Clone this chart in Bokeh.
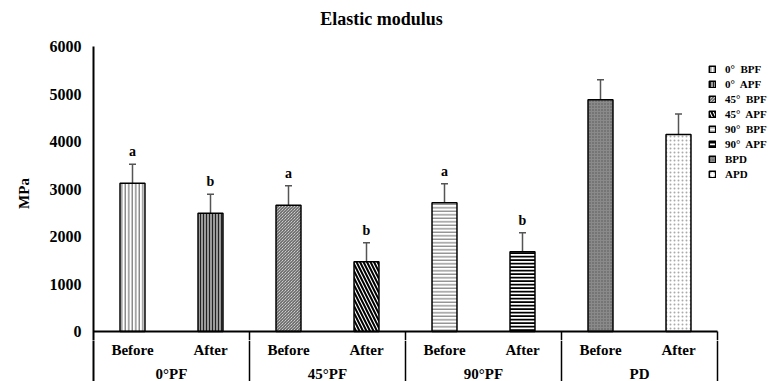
from bokeh.plotting import figure
from bokeh.layouts import column
from bokeh.models import (ColumnDataSource, Range1d, FixedTicker, Whisker, TeeHead,
                          Legend, LegendItem)
from bokeh.core.properties import value
from bokeh.embed import file_html
from bokeh.resources import INLINE

# ---------------- data ----------------
groups = ["0°PF", "45°PF", "90°PF", "PD"]
stages = ["Before", "After"]
series = ["0°  BPF", "0°  APF", "45°  BPF", "45°  APF", "90°  BPF", "90°  APF", "BPD", "APD"]
means = [3120, 2490, 2660, 1470, 2710, 1680, 4880, 4150]
errors = [400, 400, 410, 400, 400, 400, 420, 430]
letters = ["a", "b", "a", "b", "a", "b", "", ""]
y_ticks = [0, 1000, 2000, 3000, 4000, 5000, 6000]
title_text = "Elastic modulus"
y_label = "MPa"

# ---------------- styles ----------------
FONT = "Liberation Serif"
styles = [
    dict(fill_color="white", hatch_pattern="|", hatch_scale=3.5, hatch_weight=1, hatch_color="#555555"),
    dict(fill_color="#9a9a9a", hatch_pattern="|", hatch_scale=3, hatch_weight=1, hatch_color="#222222"),
    dict(fill_color="white", hatch_pattern="\\", hatch_scale=3, hatch_weight=1, hatch_color="#444444"),
    dict(fill_color="white", hatch_pattern="\\", hatch_scale=7, hatch_weight=2, hatch_color="black"),
    dict(fill_color="white", hatch_pattern="-", hatch_scale=3.5, hatch_weight=1, hatch_color="#666666"),
    dict(fill_color="white", hatch_pattern="-", hatch_scale=3.5, hatch_weight=2, hatch_color="black"),
    dict(fill_color="#8a8a8a", hatch_pattern=".", hatch_scale=3, hatch_weight=1, hatch_color="#555555"),
    dict(fill_color="white", hatch_pattern=".", hatch_scale=4, hatch_weight=1, hatch_color="#aaaaaa"),
]

n = len(series)
centers = [i + 0.5 for i in range(n)]
upper = [m + e for m, e in zip(means, errors)]
lower = [m - e for m, e in zip(means, errors)]

W = 769
left_b = 93
px_per_cat = 78.0
frame_w = W - left_b
y_top = y_ticks[-1]
px_per_unit = 285.0 / y_top
H0 = 30                 # title strip
frame_top = 46
zero_px = 331
H1 = 340 - H0
H2 = 381 - H0 - H1
y_bottom = -(H0 + H1 - zero_px) / px_per_unit

xr = Range1d(0, frame_w / px_per_cat)


def bare(fig):
    fig.outline_line_color = None
    fig.xgrid.visible = False
    fig.ygrid.visible = False
    fig.xaxis.visible = False


# ---------------- title strip ----------------
t = figure(width=W, height=H0, output_backend="svg", toolbar_location=None,
           x_range=xr, y_range=Range1d(0, H0),
           min_border_left=left_b, min_border_right=0, min_border_top=0, min_border_bottom=0)
bare(t)
t.yaxis.visible = False
t.text(x=[(381 - left_b) / px_per_cat], y=[H0 - 18], text=[title_text],
       text_align="center", text_baseline="middle",
       text_font=value(FONT), text_font_style="bold", text_font_size="18px", text_color="black")

# ---------------- main plot ----------------
p = figure(width=W, height=H1, output_backend="svg", toolbar_location=None,
           x_range=xr, y_range=Range1d(y_bottom, y_top),
           min_border_left=left_b, min_border_right=0, min_border_top=frame_top - H0,
           min_border_bottom=0)
bare(p)

ax = p.yaxis[0]
ax.ticker = FixedTicker(ticks=y_ticks)
ax.major_label_text_font = FONT
ax.major_label_text_font_style = "bold"
ax.major_label_text_font_size = "16px"
ax.major_label_text_color = "black"
ax.axis_line_width = 2
ax.axis_line_color = "black"
ax.major_tick_line_color = None
ax.minor_tick_line_color = None
ax.major_tick_out = 0
ax.major_tick_in = 0
ax.major_label_standoff = 12
ax.axis_label = y_label
ax.axis_label_text_font = FONT
ax.axis_label_text_font_style = "bold"
ax.axis_label_text_font_size = "15px"
ax.axis_label_text_color = "black"
ax.axis_label_standoff = 15

# bars
items = []
for i in range(n):
    src = ColumnDataSource(dict(x=[centers[i]], top=[means[i]]))
    r = p.vbar(x="x", top="top", bottom=0, width=0.32, source=src,
               line_color="black", line_width=1.5, **styles[i])
    items.append(LegendItem(label=series[i], renderers=[r]))

# error bars
esrc = ColumnDataSource(dict(x=centers, upper=upper, lower=lower))
p.add_layout(Whisker(base="x", upper="upper", lower="lower", source=esrc,
                     line_color="#555555", line_width=1.5,
                     upper_head=TeeHead(size=7, line_color="#555555", line_width=1.5),
                     lower_head=TeeHead(size=7, line_color="#555555", line_width=1.5)))

# significance letters
lsrc = ColumnDataSource(dict(x=centers, y=upper, t=letters))
p.text(x="x", y="y", text="t", source=lsrc, y_offset=-5,
       text_align="center", text_baseline="bottom",
       text_font=value(FONT), text_font_style="bold", text_font_size="14px", text_color="black")

# baseline of the category table
p.segment(x0=[0], y0=[0], x1=[n], y1=[0], line_color="black", line_width=2)
div_x = [2 * (g + 1) for g in range(len(groups))]
p.segment(x0=div_x, y0=[0] * len(div_x), x1=div_x, y1=[y_bottom] * len(div_x),
          line_color="black", line_width=1.5)

# legend
legend = Legend(items=items, location=(615, 160), glyph_width=8, glyph_height=8,
                label_height=10, spacing=3, padding=0, margin=0, label_standoff=9,
                border_line_color=None, background_fill_alpha=0,
                label_text_font=FONT, label_text_font_style="bold", label_text_font_size="11px",
                label_text_color="black")
p.add_layout(legend)

# ---------------- category table below ----------------
q = figure(width=W, height=H2, output_backend="svg", toolbar_location=None,
           x_range=xr, y_range=Range1d(0, H2),
           min_border_left=left_b, min_border_right=0, min_border_top=0, min_border_bottom=0)
bare(q)
qa = q.yaxis[0]
qa.ticker = FixedTicker(ticks=[])
qa.axis_line_width = 2
qa.axis_line_color = "black"
qa.major_tick_line_color = None
qa.minor_tick_line_color = None
qa.major_label_text_font_size = "0px"

top_q = H0 + H1
q.segment(x0=div_x, y0=[0] * len(div_x), x1=div_x, y1=[H2] * len(div_x),
          line_color="black", line_width=1.5)
row1_y = H2 - (349 - top_q)
row2_y = H2 - (373 - top_q)
stage_labels = [stages[i % 2] for i in range(n)]
q.text(x=centers, y=[row1_y] * n, text=stage_labels, text_align="center", text_baseline="middle",
       text_font=value(FONT), text_font_style="bold", text_font_size="15px", text_color="black")
gx = [2 * g + 1 for g in range(len(groups))]
q.text(x=gx, y=[row2_y] * len(groups), text=groups, text_align="center", text_baseline="middle",
       text_font=value(FONT), text_font_style="bold", text_font_size="15px", text_color="black")

layout = column(t, p, q, spacing=0)
open("out.html", "w").write(file_html(layout, INLINE))
